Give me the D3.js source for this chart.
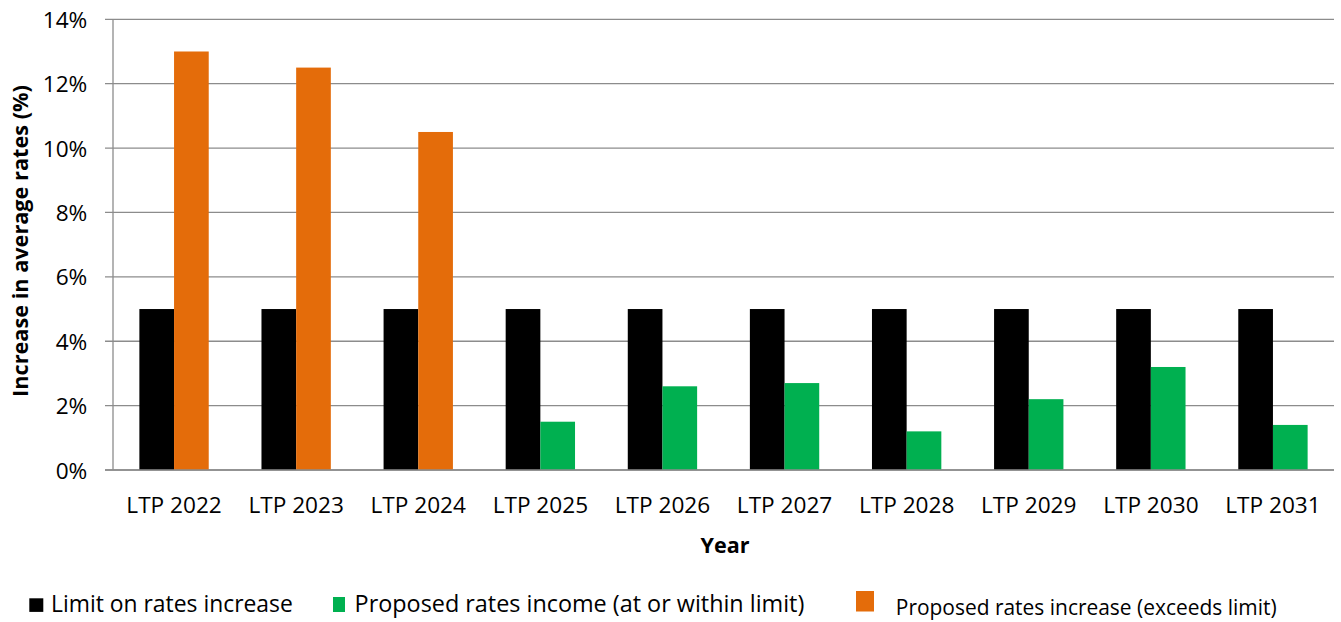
<!DOCTYPE html>
<html><head><meta charset="utf-8">
<script src="https://cdn.jsdelivr.net/npm/d3@7/dist/d3.min.js"></script>
<style>
body{margin:0;background:#fff;}
text{font-family:"Open Sans",sans-serif;fill:#000;}
</style></head>
<body><svg id="c" width="1341" height="622"></svg>
<script>
const categories = ["LTP 2022","LTP 2023","LTP 2024","LTP 2025","LTP 2026","LTP 2027","LTP 2028","LTP 2029","LTP 2030","LTP 2031"];
const limitValues = [5,5,5,5,5,5,5,5,5,5];
const proposedValues = [13,12.5,10.5,1.5,2.6,2.7,1.2,2.2,3.2,1.4];
const yTicks = [0,2,4,6,8,10,12,14];
const seriesNames = ["Limit on rates increase","Proposed rates income (at or within limit)","Proposed rates increase (exceeds limit)"];
const colors = {limit:"#000000", within:"#00b050", exceeds:"#e46c0a"};

const svg = d3.select("#c");
const L=113, R=1334, T=19.3, B=470;
const x = d3.scaleBand().domain(categories).range([L,R]).paddingInner(0).paddingOuter(0);
const y = d3.scaleLinear().domain([0,14]).range([B,T]);
const bw = x.bandwidth()*0.284;

// scale font of a selection so that the first node has the target width
function fit(sel, target){
  const n = sel.node();
  const fs = parseFloat(getComputedStyle(n).fontSize);
  const w = n.getComputedTextLength();
  sel.style("font-size",(fs*target/w)+"px");
}

// gridlines
svg.append("g").selectAll("line").data(yTicks).join("line")
  .attr("x1",L-8).attr("x2",R).attr("y1",d=>y(d)).attr("y2",d=>y(d))
  .attr("stroke","#8c8c8c").attr("stroke-width",1.3);
svg.append("line").attr("x1",L).attr("x2",L).attr("y1",T).attr("y2",B).attr("stroke","#8c8c8c").attr("stroke-width",1.3);

const yAxis = d3.axisLeft(y).tickValues(yTicks).tickFormat(d=>d+"%").tickSize(0).tickPadding(25.7);
const ga = svg.append("g").attr("transform",`translate(${L},0)`).call(yAxis);
ga.select(".domain").remove();
ga.selectAll("text").style("font-family","'Open Sans'").style("font-size","20px").attr("dy","0.36em");
fit(ga.selectAll("text").filter(d=>d===14), 44.6);
ga.selectAll("text").style("font-size", ga.selectAll("text").filter(d=>d===14).style("font-size"));

const xAxis = d3.axisBottom(x).tickSize(0).tickPadding(0);
const gx = svg.append("g").attr("transform",`translate(0,${B})`).call(xAxis);
gx.select(".domain").remove();
gx.selectAll("text").style("font-family","'Open Sans'").style("font-size","20px").attr("y",43.3).attr("dy",null);
fit(gx.selectAll("text").filter(d=>d===categories[0]), 95.5);
gx.selectAll("text").style("font-size", gx.selectAll("text").filter(d=>d===categories[0]).style("font-size"));

// bars
svg.append("g").selectAll("rect").data(categories).join("rect")
  .attr("x",d=>x(d)+x.bandwidth()/2-bw).attr("width",bw)
  .attr("y",(d,i)=>y(limitValues[i])).attr("height",(d,i)=>B-y(limitValues[i]))
  .attr("fill",colors.limit);
svg.append("g").selectAll("rect").data(categories).join("rect")
  .attr("x",d=>x(d)+x.bandwidth()/2).attr("width",bw)
  .attr("y",(d,i)=>y(proposedValues[i])).attr("height",(d,i)=>B-y(proposedValues[i]))
  .attr("fill",(d,i)=>proposedValues[i]>limitValues[i]?colors.exceeds:colors.within);

svg.append("line").attr("x1",L-8).attr("x2",R).attr("y1",B).attr("y2",B).attr("stroke","#8c8c8c").attr("stroke-width",1.3);

// titles
const yt = svg.append("text").attr("transform",`translate(28,241) rotate(-90)`).attr("text-anchor","middle")
  .style("font-size","20px").style("font-weight","bold").text("Increase in average rates (%)");
fit(yt, 312);
const xt = svg.append("text").attr("x",725).attr("y",553.3).attr("text-anchor","middle")
  .style("font-size","20px").style("font-weight","bold").text("Year");
fit(xt, 49);

// legend
const leg = [
  {name:seriesNames[0], c:colors.limit, sx:29.3, sy:598.3, w:14, h:13.6, tx:51, ty:611.7, tw:242},
  {name:seriesNames[1], c:colors.within, sx:333, sy:597, w:12, h:15, tx:354.6, ty:612.3, tw:450},
  {name:seriesNames[2], c:colors.exceeds, sx:856, sy:591, w:18, h:20.5, tx:895.8, ty:615, tw:381}
];
const lg = svg.append("g");
lg.selectAll("rect").data(leg).join("rect").attr("x",d=>d.sx).attr("y",d=>d.sy).attr("width",d=>d.w).attr("height",d=>d.h).attr("fill",d=>d.c);
lg.selectAll("text").data(leg).join("text").attr("x",d=>d.tx).attr("y",d=>d.ty).style("font-size","20px").text(d=>d.name)
  .each(function(d){ fit(d3.select(this), d.tw); });
</script></body></html>
